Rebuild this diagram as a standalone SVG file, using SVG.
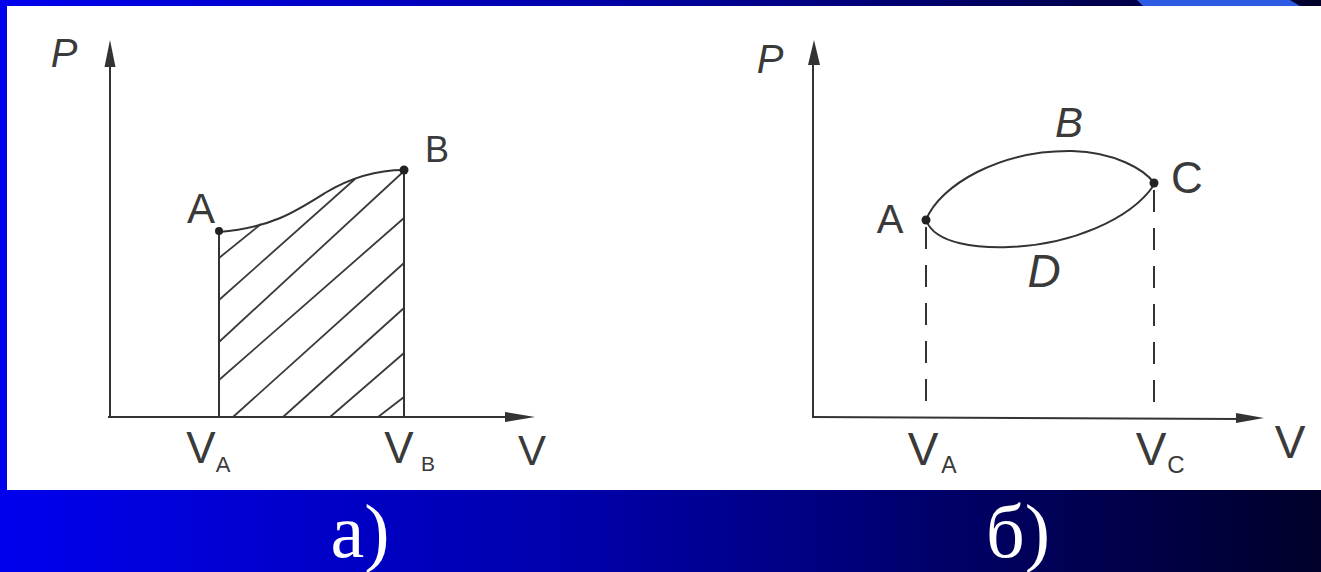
<svg xmlns="http://www.w3.org/2000/svg" width="1321" height="572" viewBox="0 0 1321 572">
<defs>
<linearGradient id="bg" x1="0" y1="0" x2="1" y2="0">
<stop offset="0" stop-color="#0000EE"/>
<stop offset="0.45" stop-color="#0000A8"/>
<stop offset="0.75" stop-color="#000060"/>
<stop offset="1" stop-color="#00002A"/>
</linearGradient>
<style>
.ax{stroke:#333;stroke-width:2;fill:none}
.cv{stroke:#333;stroke-width:2;fill:none}
.ht{stroke:#3a3a3a;stroke-width:1.8;fill:none}
.ds{stroke:#333;stroke-width:2;fill:none;stroke-dasharray:22 16}
.ah{fill:#333}
.dot{fill:#222}
.lb{font-family:"Liberation Sans",Arial,sans-serif;fill:#3a3a3a;text-anchor:middle}
.it{font-style:italic}
.cap{font-family:"Liberation Serif","Times New Roman",serif;fill:#fff;font-size:76px;text-anchor:middle}
</style>
</defs>
<rect x="0" y="0" width="1321" height="572" fill="url(#bg)"/>
<polygon points="1137,0 1290,0 1300,6 1143,6" fill="#2C5AE0"/>
<rect x="7" y="6" width="1314" height="484" fill="#fff"/>

<g id="graph-a">
<g id="axes-a">
<line class="ax" x1="110" y1="417" x2="110" y2="60"/>
<polygon class="ah" points="110,40 104.5,67 115.5,67"/>
<line class="ax" x1="108" y1="417" x2="512" y2="417"/>
<polygon class="ah" points="535,417 505,412 505,422"/>
<text class="lb it" x="64" y="67" font-size="40">P</text>
<text class="lb" x="532" y="465" font-size="42">V</text>
</g>
<g id="hatch-a">
<line class="ht" x1="219" y1="258" x2="261" y2="224"/>
<line class="ht" x1="219" y1="300" x2="355" y2="179"/>
<line class="ht" x1="219" y1="342" x2="403" y2="172"/>
<line class="ht" x1="219" y1="380" x2="404" y2="218"/>
<line class="ht" x1="233" y1="417" x2="404" y2="263"/>
<line class="ht" x1="283" y1="417" x2="404" y2="308"/>
<line class="ht" x1="330" y1="417" x2="404" y2="353"/>
<line class="ht" x1="378" y1="417" x2="404" y2="397"/>
</g>
<g id="connectors-a">
<line class="ax" x1="219" y1="231" x2="219" y2="417"/>
<line class="ax" x1="404" y1="170" x2="404" y2="417"/>
<path class="cv" d="M219,232 C270,228 295,212 325,193 C350,178 375,170 404,170"/>
</g>
<g id="node-a-A">
<circle class="dot" cx="219" cy="231" r="4"/>
<text class="lb" x="201" y="223" font-size="42">A</text>
</g>
<g id="node-a-B">
<circle class="dot" cx="404" cy="170" r="4.5"/>
<text class="lb" x="437" y="162" font-size="36">B</text>
</g>
<g id="label-a-VA">
<text class="lb" x="201" y="463" font-size="44">V</text>
<text class="lb" x="223" y="472" font-size="22">A</text>
</g>
<g id="label-a-VB">
<text class="lb" x="399" y="463" font-size="44">V</text>
<text class="lb" x="428" y="471" font-size="21">B</text>
</g>
</g>

<g id="graph-b">
<g id="axes-b">
<line class="ax" x1="813" y1="418" x2="813" y2="60"/>
<polygon class="ah" points="814,40 808,65 820,65"/>
<line class="ax" x1="812" y1="417" x2="1240" y2="419"/>
<polygon class="ah" points="1264,418 1236,413 1236,423"/>
<text class="lb it" x="770" y="73" font-size="40">P</text>
<text class="lb" x="1290" y="458" font-size="46">V</text>
</g>
<g id="connectors-b">
<path class="cv" d="M926,220 C940,185 1000,150 1072,151 C1115,152 1145,170 1154,183"/>
<path class="cv" d="M926,220 C935,245 980,248 1009,247 C1070,245 1130,220 1154,185"/>
<line class="ds" x1="926" y1="227" x2="926" y2="417"/>
<line class="ds" x1="1154" y1="190" x2="1154" y2="418"/>
</g>
<g id="node-b-A">
<circle class="dot" cx="926" cy="220" r="4.5"/>
<text class="lb" x="890" y="233" font-size="40">A</text>
</g>
<g id="node-b-B">
<text class="lb it" x="1069" y="137" font-size="42">B</text>
</g>
<g id="node-b-C">
<circle class="dot" cx="1154" cy="183" r="4.5"/>
<text class="lb" x="1187" y="193" font-size="44">C</text>
</g>
<g id="node-b-D">
<text class="lb it" x="1044" y="287" font-size="46">D</text>
</g>
<g id="label-b-VA">
<text class="lb" x="923" y="465" font-size="46">V</text>
<text class="lb" x="949" y="473" font-size="23">A</text>
</g>
<g id="label-b-VC">
<text class="lb" x="1151" y="465" font-size="46">V</text>
<text class="lb" x="1176" y="473" font-size="24">C</text>
</g>
</g>

<text class="cap" x="360" y="557">а)</text>
<text class="cap" x="1018" y="557">б)</text>
</svg>
